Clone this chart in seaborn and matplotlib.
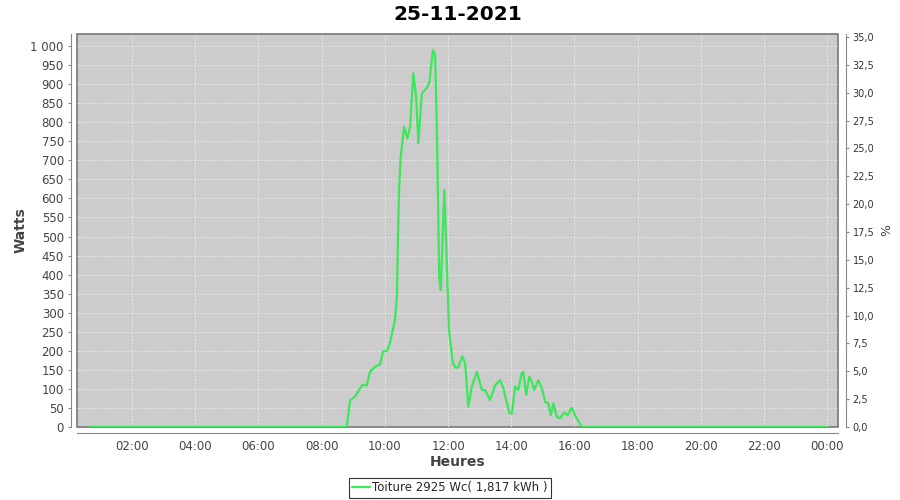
import matplotlib
matplotlib.use("Agg")
import matplotlib.pyplot as plt
import pandas as pd
import seaborn as sns

# data (hours of day, watts)
hours = [0.67, 8.75, 8.79, 8.90, 9.06, 9.28, 9.43, 9.53, 9.69, 9.85, 9.94, 10.07,
         10.16, 10.32, 10.38, 10.42, 10.45, 10.50, 10.61, 10.71, 10.80, 10.90,
         10.99, 11.06, 11.17, 11.33, 11.41, 11.52, 11.59, 11.64, 11.72, 11.77,
         11.88, 11.94, 12.03, 12.15, 12.25, 12.33, 12.45, 12.54, 12.64, 12.75,
         12.91, 13.07, 13.17, 13.33, 13.49, 13.65, 13.75, 13.94, 14.02, 14.12,
         14.22, 14.33, 14.38, 14.47, 14.57, 14.65, 14.72, 14.86, 14.97, 15.07,
         15.17, 15.25, 15.33, 15.44, 15.54, 15.68, 15.78, 15.91, 16.04, 16.23,
         23.96]
watts = [0, 0, 0, 70, 80, 110, 110, 145, 158, 165, 198, 200,
         220, 281, 342, 517, 622, 709, 788, 758, 788, 928,
         867, 745, 876, 890, 906, 989, 976, 806, 394, 359,
         622, 483, 255, 168, 155, 158, 185, 168, 53, 106,
         145, 97, 97, 71, 110, 123, 101, 36, 36, 106,
         97, 141, 145, 84, 132, 119, 97, 123, 101, 66,
         62, 31, 62, 27, 23, 38, 31, 51, 27, 0,
         0]

title = "25-11-2021"
series_name = "Toiture 2925 Wc( 1,817 kWh )"
x_ticks = [2, 4, 6, 8, 10, 12, 14, 16, 18, 20, 22, 24]
x_labels = ["02:00", "04:00", "06:00", "08:00", "10:00", "12:00",
            "14:00", "16:00", "18:00", "20:00", "22:00", "00:00"]
y_ticks = list(range(0, 1001, 50))
y_labels = [f"{v:,}".replace(",", " ") for v in y_ticks]
pct_ticks = [i * 2.5 for i in range(15)]
pct_labels = [f"{v:.1f}".replace(".", ",") for v in pct_ticks]

df = pd.DataFrame({"Heures": hours, "Watts": watts})

sns.set_style("white")
plt.rcParams["font.family"] = ["DejaVu Sans"]

fig = plt.figure(figsize=(9, 5), dpi=100)
ax = fig.add_axes([0.0856, 0.146, 0.8456, 0.786])
ax.set_facecolor("#cccccc")
ax.patch.set_edgecolor("#777777")
ax.patch.set_linewidth(1.2)

sns.lineplot(data=df, x="Heures", y="Watts", ax=ax, color="#3be85a",
             linewidth=1.6, label=series_name)

ax.set_xlim(0.26, 24.34)
ax.set_ylim(0, 1031.5)
ax.set_xticks(x_ticks)
ax.set_xticklabels(x_labels)
ax.set_yticks(y_ticks)
ax.set_yticklabels(y_labels)
ax.grid(True, color="#eeeeee", linestyle=(0, (2, 2)), linewidth=0.6)
ax.tick_params(axis="both", length=2.5, color="#888888", pad=3,
               labelsize=8.5, labelcolor="#444444")
ax.spines["top"].set_visible(False)
ax.spines["right"].set_visible(False)
for side in ["left", "bottom"]:
    ax.spines[side].set_color("#888888")
    ax.spines[side].set_position(("outward", 4))

ax.set_xlabel("Heures", fontsize=10, fontweight="bold", color="#444444", labelpad=1)
ax.set_ylabel("Watts", fontsize=10, fontweight="bold", color="#444444", labelpad=2)
ax.set_title(title, fontsize=14.5, fontweight="bold", color="black", pad=10)

ax2 = ax.twinx()
ax2.set_ylim(0, 35.27)
ax2.set_yticks(pct_ticks)
ax2.set_yticklabels(pct_labels)
ax2.tick_params(axis="y", length=2.5, color="#888888", pad=2,
                labelsize=7, labelcolor="#333333")
ax2.set_ylabel("%", fontsize=9, color="#444444", labelpad=4)
for s in ax2.spines.values():
    s.set_visible(False)
ax2.spines["right"].set_visible(True)
ax2.spines["right"].set_color("#888888")
ax2.spines["right"].set_position(("outward", 6))

ax.get_legend().remove()
leg = fig.legend(*ax.get_legend_handles_labels(), loc="center",
                 bbox_to_anchor=(0.5, 0.024), fontsize=8.5,
                 frameon=True, fancybox=False, handlelength=1.5, borderpad=0.3,
                 handletextpad=0.2)
leg.get_frame().set_edgecolor("black")
leg.get_frame().set_linewidth(0.8)

fig.savefig("out.png", dpi=100)
